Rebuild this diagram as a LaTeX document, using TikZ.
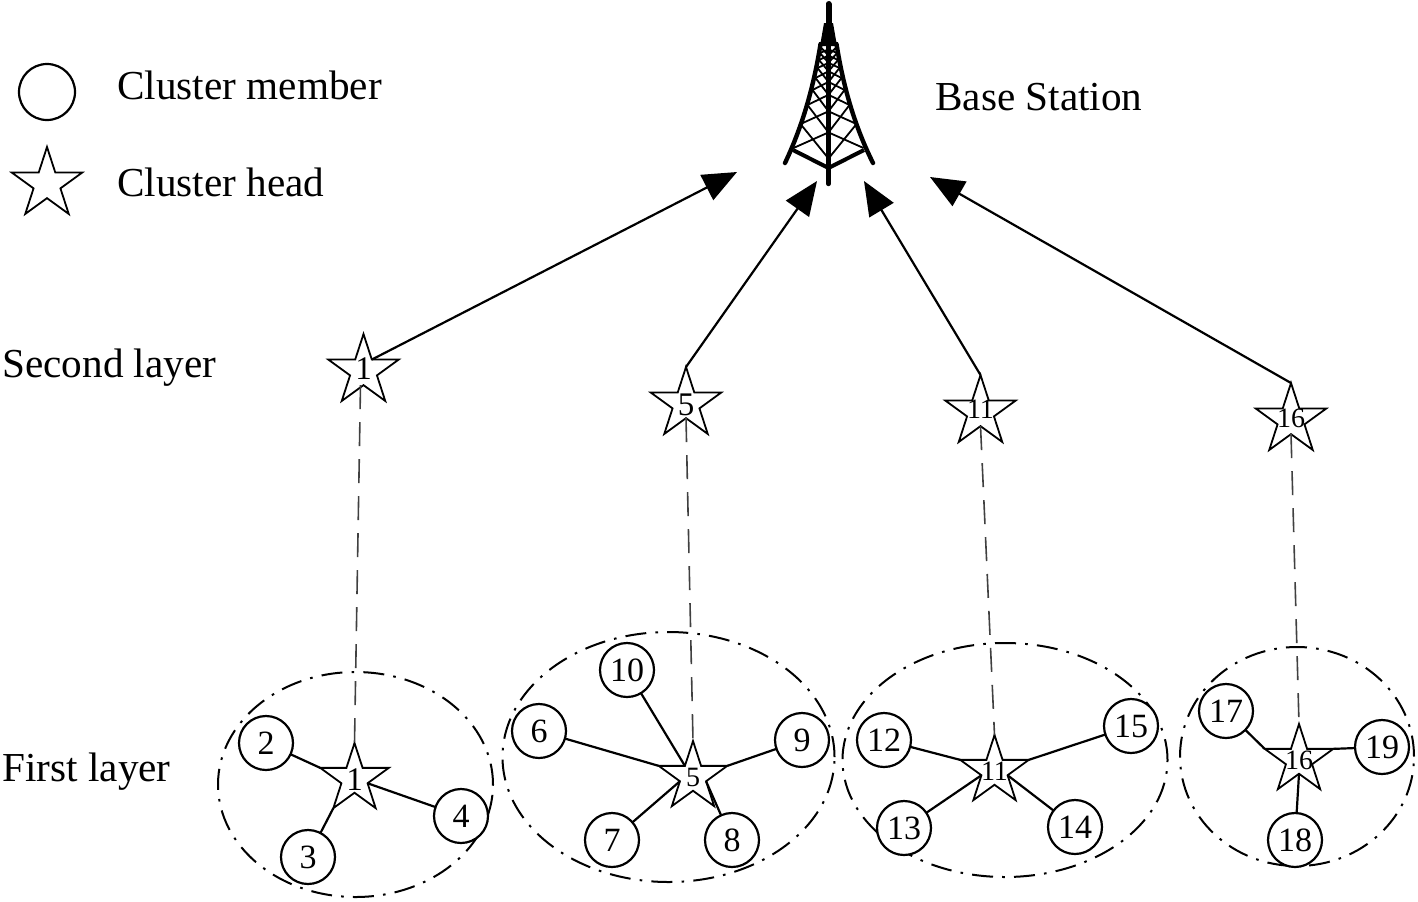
\documentclass[tikz,border=0pt]{standalone}
\usepackage{fontspec}
\setmainfont{Liberation Serif}
\usetikzlibrary{shapes.geometric,arrows.meta}
\newcommand{\nlabel}[2][0pt]{\smash{\makebox[0pt]{\raisebox{\dimexpr-0.338em+#1\relax}{#2}}}}
\newcommand{\bigdigit}{\fontsize{16.5}{18}\selectfont}
\newcommand{\smalldigit}{\fontsize{14}{15}\selectfont}
\tikzset{
  member/.style={circle,draw=black,fill=white,line width=1.1pt,minimum size=27pt,inner sep=0pt,outer sep=0pt,font=\fontsize{17}{18}\selectfont},
  chead/.style={star,star points=5,star point ratio=2.618,draw=black,fill=white,line width=0.9pt,minimum size=37pt,inner sep=0pt,outer sep=0pt},
  lowhead/.style={chead,minimum size=36pt},
  cluster/.style={ellipse,draw=black,line width=1pt,inner sep=0pt,outer sep=0pt,dash pattern=on 10.5pt off 4.6pt on 1.3pt off 4.6pt},
  lab/.style={anchor=west,inner sep=0pt,font=\fontsize{20.6}{24}\selectfont},
  link/.style={draw=black,line width=1.1pt},
  updash/.style={draw=black!75,line width=0.8pt,dash pattern=on 12pt off 6.5pt},
  uparrow/.style={draw=black,line width=1.1pt,-{Triangle[length=17pt,width=14pt]}},
  towerleg/.style={line width=2.2pt,line cap=round,black},
}
\begin{document}
\begin{tikzpicture}[x=0.5pt,y=-0.5pt]
\useasboundingbox (0,0) rectangle (1418,901);
% legend
\node[member,minimum size=28pt] (lc) at (47,92) {};
\node[chead] (ls) at (47,184) {};
\node[lab] (t1) at (117,85.5) {Cluster member};
\node[lab] (t2) at (117,182.5) {Cluster head};
\node[lab] (t3) at (935,97) {Base Station};
\node[lab] (t4) at (2,368) {Second layer};
\node[lab] (t5) at (2,772) {First layer};
% clusters
\node[cluster,minimum width=137.5pt,minimum height=112.5pt] (e1) at (355.5,784.5) {};
\node[cluster,minimum width=166pt,minimum height=125pt] (e2) at (668.5,757) {};
\node[cluster,minimum width=162.5pt,minimum height=117pt] (e3) at (1005,760) {};
\node[cluster,minimum width=117pt,minimum height=109.5pt] (e4) at (1297,756.5) {};
% tower
\draw[towerleg,line width=3pt] (828.5,4) -- (828.5,30);
\fill (820,46) -- (824,23) -- (833,23) -- (837,46) -- cycle;
\draw[towerleg] (828.5,42) -- (828.5,184);
\draw[towerleg] (820.5,44) .. controls (814,85) and (803,125) .. (785,163);
\draw[towerleg] (836.5,44) .. controls (843,85) and (854,125) .. (873,163);
\draw[towerleg,line width=2pt,line cap=butt] (793,150) -- (828.5,168) -- (864,150);
\foreach \ya/\wa/\yb/\wb in {148/35/124/28,124/28/105/21,105/21/90/16,90/16/78/13,78/13/68/11,68/11/60/9.5,60/9.5/53/8.5,53/8.5/47/8}{
  \draw[black,line width=0.9pt]
    ({828.5-\wa},\ya) -- (828.5,{\yb+0.3*\wb})
    ({828.5-\wb},\yb) -- (828.5,{\ya+0.3*\wa})
    ({828.5+\wa},\ya) -- (828.5,{\yb+0.3*\wb})
    ({828.5+\wb},\yb) -- (828.5,{\ya+0.3*\wa});
}
% tower arrow ends
\coordinate (b1) at (737,172);
\coordinate (b2) at (817,181);
\coordinate (b3) at (864,181);
\coordinate (b4) at (930,177);
% members
\node[member] (n2) at (266,743) {2};
\node[member] (n3) at (308,857) {3};
\node[member] (n4) at (461,816) {4};
\node[member] (n6) at (539,731) {6};
\node[member] (n10) at (627,670) {10};
\node[member] (n7) at (612,840) {7};
\node[member] (n8) at (732,840) {8};
\node[member] (n9) at (802,740) {9};
\node[member] (n12) at (884,740) {12};
\node[member] (n13) at (904,828) {13};
\node[member] (n14) at (1075,827) {14};
\node[member] (n15) at (1131,726) {15};
\node[member] (n17) at (1226,711) {17};
\node[member] (n19) at (1382,747) {19};
\node[member] (n18) at (1295,840) {18};
% first-layer heads
\node[lowhead] (f1) at (354.5,779) {\bigdigit\nlabel{1}};
\node[lowhead] (f5) at (693,777) {\smalldigit\nlabel{5}};
\node[lowhead] (f11) at (994.5,771) {\smalldigit\nlabel{11}};
\node[lowhead] (f16) at (1299,760) {\smalldigit\nlabel{16}};
% second-layer heads
\node[chead] (s1) at (363.5,371) {\bigdigit\nlabel[1.5pt]{1}};
\node[chead] (s5) at (686,404) {\bigdigit\nlabel{5}};
\node[chead] (s11) at (980.5,412) {\smalldigit\nlabel[1.5pt]{11}};
\node[chead] (s16) at (1291,420) {\smalldigit\nlabel[1pt]{16}};
% links
\draw[link] (n2) -- (f1.outer point 2);
\draw[link] (n3) -- (f1.outer point 3);
\draw[link] (n4) -- (f1.inner point 4);
\draw[link] (n6) -- (f5.outer point 2);
\draw[link] (n10) -- (f5.inner point 1);
\draw[link] (n7) -- (f5.inner point 2);
\draw[link] (n8) -- (f5.inner point 4);
\draw[link] (n9) -- (f5.outer point 5);
\draw[link] (n12) -- (f11.outer point 2);
\draw[link] (n13) -- (f11.inner point 2);
\draw[link] (n14) -- (f11.inner point 4);
\draw[link] (n15) -- (f11.outer point 5);
\draw[link] (n17) -- (f16.outer point 2);
\draw[link] (n19) -- (f16.outer point 5);
\draw[link] (n18) -- (f16.inner point 3);
% layer links
\draw[updash] ([xshift=-1.5pt]s1.inner point 3) -- (f1.outer point 1);
\draw[updash] (s5.inner point 3) -- (f5.outer point 1);
\draw[updash] (s11.inner point 3) -- (f11.outer point 1);
\draw[updash] (s16.inner point 3) -- (f16.outer point 1);
% uplinks
\draw[uparrow] (s1.inner point 5) -- (b1);
\draw[uparrow] (s5.outer point 1) -- (b2);
\draw[uparrow] (s11.outer point 1) -- (b3);
\draw[uparrow] (s16.outer point 1) -- (b4);
\end{tikzpicture}
\end{document}
